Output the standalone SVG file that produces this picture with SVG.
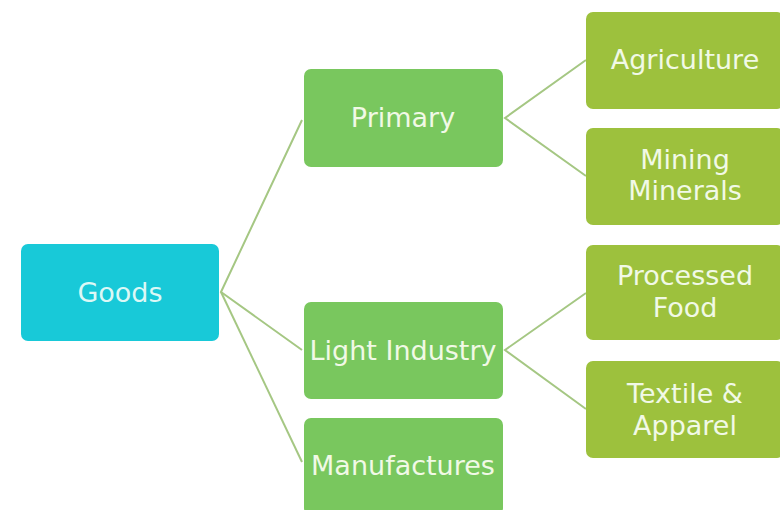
<svg xmlns="http://www.w3.org/2000/svg" width="780" height="510" viewBox="0 0 780 510">
<style>
.box{stroke:none}
.root{fill:#18c9d8}
.mid{fill:#79c75e}
.leaf{fill:#9dc13d}
.t{font-family:"DejaVu Sans",sans-serif;font-size:27px;fill:#f1f9e6;text-anchor:middle}
.tr{fill:#dcf8f6}
.c{stroke:#a5c783;stroke-width:2;fill:none}
</style>
<rect width="780" height="510" fill="#ffffff"/>
<g id="connectors">
<polyline class="c" points="302,120 221,292 302,350"/>
<line class="c" x1="221" y1="292" x2="302" y2="462"/>
<polyline class="c" points="586,60 505,118 586,176"/>
<polyline class="c" points="586,293 505,350 586,409"/>
</g>
<g id="goods"><rect class="box root" x="21" y="244" width="198" height="97" rx="7"/><text class="t tr" x="120" y="302">Goods</text></g>
<g id="primary"><rect class="box mid" x="304" y="69" width="199" height="98" rx="7"/><text class="t" x="403" y="127">Primary</text></g>
<g id="light"><rect class="box mid" x="304" y="302" width="199" height="97" rx="7"/><text class="t" x="403" y="360">Light Industry</text></g>
<g id="manufactures"><rect class="box mid" x="304" y="418" width="199" height="97" rx="7"/><text class="t" x="403" y="475">Manufactures</text></g>
<g id="agriculture"><rect class="box leaf" x="586" y="12" width="198" height="97" rx="7"/><text class="t" x="685" y="69">Agriculture</text></g>
<g id="mining"><rect class="box leaf" x="586" y="128" width="198" height="97" rx="7"/><text class="t" x="685" y="169">Mining</text><text class="t" x="685" y="200">Minerals</text></g>
<g id="food"><rect class="box leaf" x="586" y="245" width="198" height="95" rx="7"/><text class="t" x="685" y="285">Processed</text><text class="t" x="685" y="317">Food</text></g>
<g id="textile"><rect class="box leaf" x="586" y="361" width="198" height="97" rx="7"/><text class="t" x="685" y="403">Textile &amp;</text><text class="t" x="685" y="435">Apparel</text></g>
</svg>
